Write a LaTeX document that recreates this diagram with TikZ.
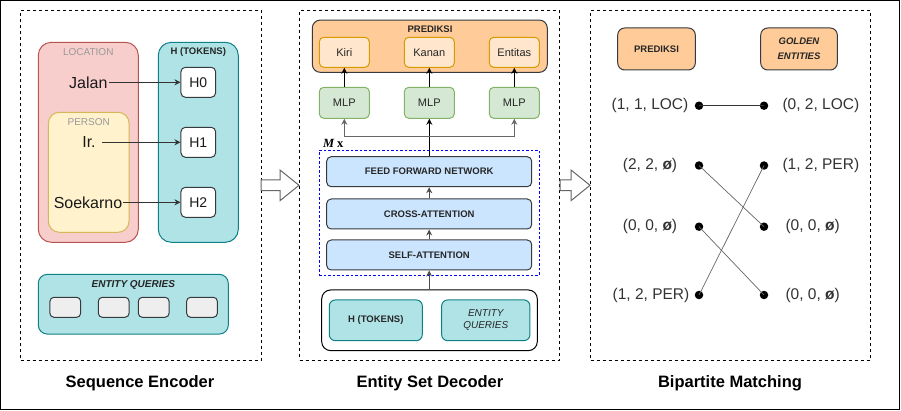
\documentclass[tikz,border=0pt]{standalone}
\usepackage{fontspec}
\setmainfont{Liberation Sans}
\newfontfamily\serifM{Liberation Serif}
\usetikzlibrary{arrows.meta}
\definecolor{redF}{HTML}{F8CECC}\definecolor{redD}{HTML}{B85450}
\definecolor{yelF}{HTML}{FFF2CC}\definecolor{yelD}{HTML}{D6B656}
\definecolor{tealF}{HTML}{B0E3E6}\definecolor{tealD}{HTML}{0E8088}
\definecolor{greyF}{HTML}{EEEEEE}\definecolor{greyD}{HTML}{36393D}
\definecolor{orgF}{HTML}{FFCC99}\definecolor{orgLF}{HTML}{FFE6CC}\definecolor{orgLD}{HTML}{D79B00}
\definecolor{grnF}{HTML}{D5E8D4}\definecolor{grnD}{HTML}{82B366}
\definecolor{bluF}{HTML}{CCE5FF}
\definecolor{txt}{HTML}{333333}
\definecolor{lblgrey}{HTML}{999999}
\definecolor{lineg}{HTML}{666666}
\newcommand{\fsz}[2]{\fontsize{#1}{#2}\selectfont}
\begin{document}
\begin{tikzpicture}[x=1pt,y=-1pt,line width=1pt,
  rbox/.style={draw, inner sep=0pt, align=center},
  lbl/.style={inner sep=0pt, align=center},
  panel/.style={draw=black, dash pattern=on 3pt off 3pt, line width=1pt, inner sep=0pt},
  arr/.style={-{Stealth[length=6pt,width=6pt]}},
  small/.style={font=\fsz{9.5}{11}\bfseries, text=black!85},
  tok/.style={rbox, fill=white, draw=greyD, rounded corners=4.5pt, minimum width=34.7pt, minimum height=30pt, font=\fsz{14}{16}, text=black!90},
  word/.style={inner sep=1.5pt, font=\fsz{16}{19}, text=black!90},
  eqs/.style={rbox, fill=greyF, draw=greyD, rounded corners=4pt, minimum width=30.7pt, minimum height=20pt},
  outp/.style={rbox, fill=orgLF, draw=orgLD, rounded corners=4.5pt, minimum width=50pt, minimum height=30pt, font=\fsz{11}{13}, text=black!85},
  mlp/.style={rbox, fill=grnF, draw=grnD, rounded corners=4.5pt, minimum width=50pt, minimum height=31pt, font=\fsz{11}{13}, text=black!85},
  layer/.style={rbox, fill=bluF, draw=greyD, rounded corners=4.5pt, minimum width=205pt, minimum height=30pt, font=\fsz{9.5}{11}\bfseries, text=black!85},
  dot/.style={circle, fill=black, inner sep=0pt, minimum size=8.5pt},
  tup/.style={inner sep=0pt, font=\fsz{15.5}{18}, text=txt},
  title/.style={inner sep=0pt, font=\fsz{16.5}{19}\bfseries}]
\useasboundingbox (0,0) rectangle (901,411);
% outer border
\draw[line width=1pt] (0.5,0.5) rectangle (899.5,409.5);
% panels
\node[panel, minimum width=241pt, minimum height=349.5pt] (p1) at (141,185.25) {};
\node[panel, minimum width=259.5pt, minimum height=349.5pt] (p2) at (429.25,185.25) {};
\node[panel, minimum width=280pt, minimum height=349.5pt] (p3) at (730.5,185.25) {};
% hollow arrows
\draw[draw=lineg, fill=white, line width=1pt] (261,180) -- (280,180) -- (280,170) -- (299,185.3) -- (280,200.7) -- (280,190.7) -- (261,190.7) -- cycle;
\draw[draw=lineg, fill=white, line width=1pt] (560,180) -- (571,180) -- (571,170) -- (590,185.3) -- (571,200.7) -- (571,190.7) -- (560,190.7) -- cycle;
% titles
\node[title] (t1) at (140,383) {Sequence Encoder};
\node[title] (t2) at (430,383) {Entity Set Decoder};
\node[title] (t3) at (730,383) {Bipartite Matching};

% ---------- Panel 1
\node[rbox, fill=redF, draw=redD, rounded corners=13pt, minimum width=100pt, minimum height=200pt] (loc) at (88.3,142.3) {};
\node[lbl, font=\fsz{10}{12}, text=lblgrey] (locl) at (88.3,52.5) {LOCATION};
\node[rbox, fill=yelF, draw=yelD, rounded corners=11pt, minimum width=80.7pt, minimum height=120pt] (per) at (88.7,172.3) {};
\node[lbl, font=\fsz{10}{12}, text=lblgrey] (perl) at (88.7,121.8) {PERSON};
\node[rbox, fill=tealF, draw=tealD, rounded corners=13pt, minimum width=80pt, minimum height=200pt] (htok) at (198.3,142.3) {};
\node[lbl, small] (htokl) at (198.3,52.5) {H (TOKENS)};
\node[tok] (h0) at (198.3,82.3) {H0};
\node[tok] (h1) at (198.3,142.3) {H1};
\node[tok] (h2) at (198.3,202.3) {H2};
\node[word] (w0) at (88.3,82.3) {Jalan};
\node[word, inner xsep=6pt] (w1) at (89,142.3) {Ir.};
\node[word, inner xsep=0pt] (w2) at (88,202.3) {Soekarno};
\draw[arr, draw=black!80] (w0.east) -- (h0.west);
\draw[arr, draw=black!80] (w1.east) -- (h1.west);
\draw[arr, draw=black!80] (w2.east) -- (h2.west);
\node[rbox, fill=tealF, draw=tealD, rounded corners=9pt, minimum width=190pt, minimum height=59.7pt] (eq) at (133.3,304.2) {};
\node[lbl, font=\fsz{10}{12}\bfseries\itshape, text=black!85] (eql) at (133.3,284.5) {ENTITY QUERIES};
\node[eqs] (q1) at (65.3,307.3) {};
\node[eqs] (q2) at (113.7,307.3) {};
\node[eqs] (q3) at (153.7,307.3) {};
\node[eqs] (q4) at (202,307.3) {};

% ---------- Panel 2
\node[rbox, fill=orgF, draw=greyD, rounded corners=8pt, minimum width=235pt, minimum height=52.3pt] (pred) at (429.8,46.2) {};
\node[lbl, small] (predl) at (430,29.5) {PREDIKSI};
\node[outp] (kiri) at (344.3,52.3) {Kiri};
\node[outp] (kanan) at (429.3,52.3) {Kanan};
\node[outp] (ent) at (514.3,52.3) {Entitas};
\node[mlp] (m1) at (344.3,102.8) {MLP};
\node[mlp] (m2) at (429.3,102.8) {MLP};
\node[mlp] (m3) at (514.3,102.8) {MLP};
\draw[arr] (m1.north) -- (kiri.south);
\draw[arr] (m2.north) -- (kanan.south);
\draw[arr] (m3.north) -- (ent.south);
\node[panel, draw=blue, dash pattern=on 2.5pt off 2pt, minimum width=220.3pt, minimum height=124.7pt] (rep) at (429.2,212.7) {};
\node[lbl, anchor=west] (mx) at (322.5,143) {\fsz{12.5}{14}\serifM\bfseries\itshape M\upshape\ x};
\node[layer] (ffn) at (429.2,171.7) {FEED FORWARD NETWORK};
\node[layer] (cross) at (429.2,214) {CROSS-ATTENTION};
\node[layer] (self) at (429.2,255) {SELF-ATTENTION};
\node[rbox, fill=white, draw=black, rounded corners=9pt, minimum width=215.6pt, minimum height=60.7pt] (inp) at (429.5,320.3) {};
\node[rbox, fill=tealF, draw=tealD, rounded corners=6pt, minimum width=93pt, minimum height=40.7pt, font=\fsz{9.5}{11}\bfseries, text=black!85] (ih) at (375.8,320.3) {H (TOKENS)};
\node[rbox, fill=tealF, draw=tealD, rounded corners=6pt, minimum width=88.3pt, minimum height=40.7pt, font=\fsz{10}{12}\itshape, text=black!85] (iq) at (485.8,320.3) {ENTITY\\QUERIES};
\draw[arr, draw=black!70] (inp.north -| self.south) -- (self.south);
\draw[arr, draw=black!70] (self.north) -- (cross.south);
\draw[arr, draw=black!70] (cross.north) -- (ffn.south);
\coordinate (jn) at (429.3,136.7);
\draw[arr] (ffn.north -| jn) -- (m2.south);
\draw[arr, draw=lineg] (jn) -| (m1.south);
\draw[arr, draw=lineg] (jn) -| (m3.south);

% ---------- Panel 3
\node[rbox, fill=orgF, draw=greyD, rounded corners=7pt, minimum width=77.6pt, minimum height=42pt, font=\fsz{9.5}{11}\bfseries, text=black!85] (bp) at (656.5,49) {PREDIKSI};
\node[rbox, fill=orgF, draw=greyD, rounded corners=7pt, minimum width=76.6pt, minimum height=42pt, font=\fsz{9.5}{15}\bfseries\itshape, text=black!85] (bg) at (799,49) {GOLDEN\\ENTITIES};
\node[dot] (l1) at (699,105.7) {};
\node[dot] (l2) at (699,165.5) {};
\node[dot] (l3) at (699,226.7) {};
\node[dot] (l4) at (699,295) {};
\node[dot] (r1) at (764,105.7) {};
\node[dot] (r2) at (764,165.5) {};
\node[dot] (r3) at (764,226.7) {};
\node[dot] (r4) at (764,295) {};
\node[tup] (lt1) at (650,105.7) {(1, 1, LOC)};
\node[tup] (lt2) at (650,165.5) {(2, 2, \textbf{ø})};
\node[tup] (lt3) at (650,226.7) {(0, 0, \textbf{ø})};
\node[tup] (lt4) at (651,295) {(1, 2, PER)};
\node[tup, anchor=west] (rt1) at (782,105.7) {(0, 2, LOC)};
\node[tup, anchor=west] (rt2) at (782,165.5) {(1, 2, PER)};
\node[tup, anchor=west] (rt3) at (785,226.7) {(0, 0, \textbf{ø})};
\node[tup, anchor=west] (rt4) at (785,295) {(0, 0, \textbf{ø})};
\draw[draw=black!80] (l1.center) -- (r1.center);
\draw[draw=lineg, line width=0.7pt] (l2.center) -- (r3.center);
\draw[draw=lineg, line width=0.7pt] (l3.center) -- (r4.center);
\draw[draw=lineg, line width=0.7pt] (l4.center) -- (r2.center);
\end{tikzpicture}
\end{document}
